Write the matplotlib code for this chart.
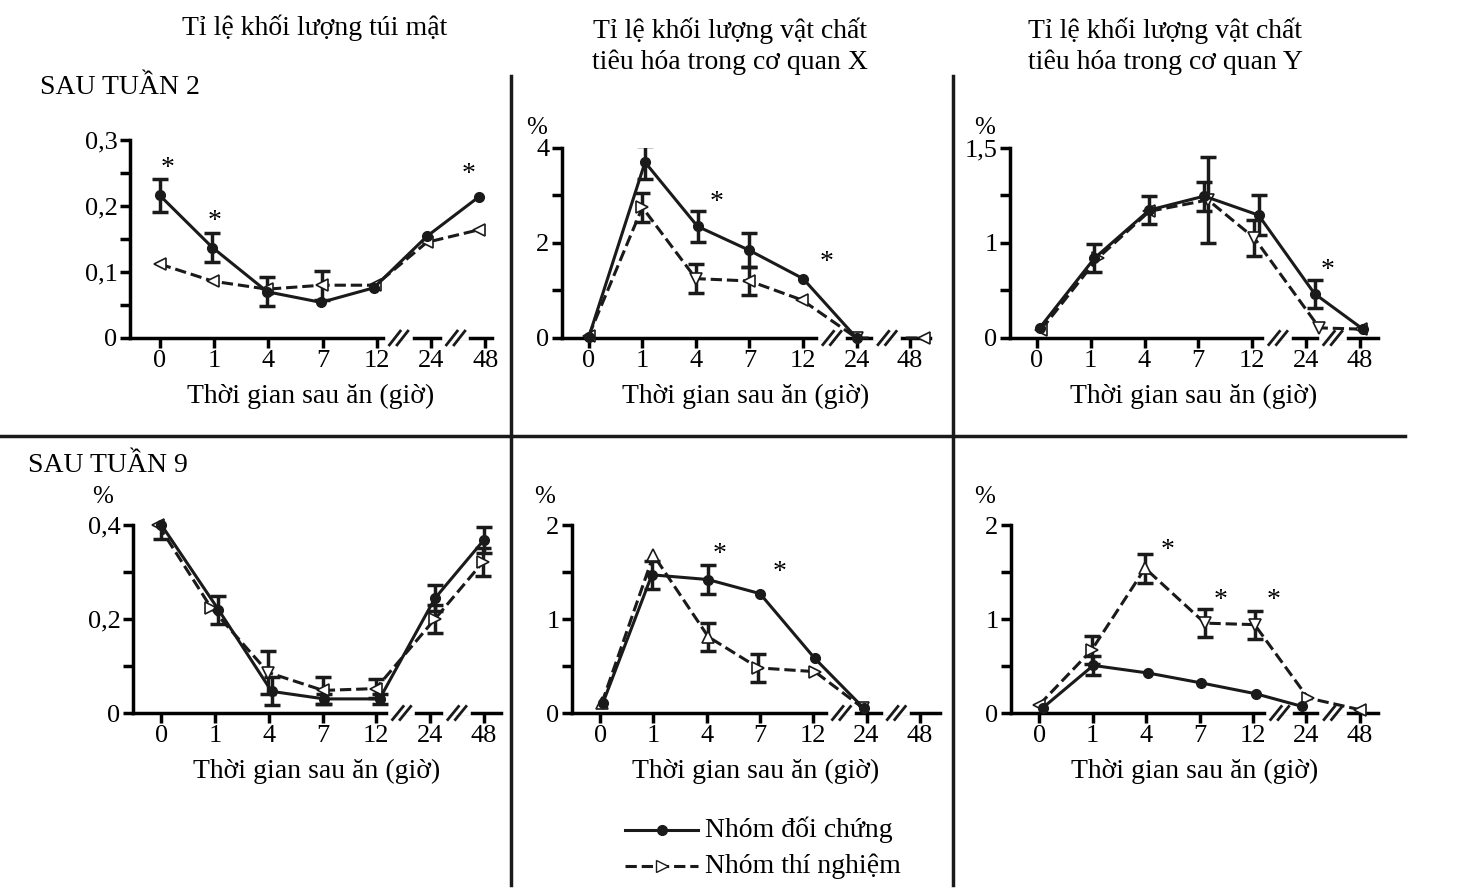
import numpy as np
import matplotlib.pyplot as plt
from matplotlib.lines import Line2D

plt.rcParams['font.family'] = ['Liberation Serif', 'DejaVu Serif']
plt.rcParams['font.size'] = 18

W, H = 1463, 889
fig = plt.figure(figsize=(W / 100, H / 100), dpi=100)

ticklabels = ['0', '1', '4', '7', '12', '24', '48']


def px_axes(l, r, t, b):
    return fig.add_axes([l / W, 1 - b / H, (r - l) / W, (b - t) / H])


# each panel: box in pixels, xlim, y ticks, data (x in category units)
panels = [
    dict(box=(130, 492, 140, 338), xlim=(-0.55, 6.12), ylim=0.3,
         yticks=[0, 0.05, 0.1, 0.15, 0.2, 0.25, 0.3],
         ylabels=['0', '', '0,1', '', '0,2', '', '0,3'],
         ctrl_x=[0, 0.97, 1.98, 2.97, 3.94, 4.92, 5.88],
         ctrl_y=[0.216, 0.137, 0.07, 0.054, 0.076, 0.154, 0.214],
         ctrl_e=[0.025, 0.022, 0.022, 0, 0, 0, 0],
         exp_x=[0, 0.98, 1.98, 2.98, 3.97, 4.92, 5.88],
         exp_y=[0.112, 0.086, 0.074, 0.08, 0.08, 0.145, 0.164],
         exp_e=[0, 0, 0, 0.022, 0, 0, 0],
         exp_m=['<', '<', '<', '<', '<', '<', '<'],
         stars=[(0.15, 0.257), (1.0, 0.177), (5.69, 0.247)],
         breaks=[4.4, 5.45], pct=None),
    dict(box=(562, 930, 148, 338), xlim=(-0.5, 6.37), ylim=4,
         yticks=[0, 1, 2, 3, 4], ylabels=['0', '', '2', '', '4'],
         ctrl_x=[0, 1.05, 2.03, 2.99, 4.0, 5.0],
         ctrl_y=[0.02, 3.7, 2.35, 1.85, 1.25, 0.0],
         ctrl_e=[0, 0.35, 0.32, 0.35, 0, 0],
         exp_x=[0.0, 1.0, 2.0, 3.0, 3.98, 5.0, 6.25],
         exp_y=[0.05, 2.75, 1.25, 1.2, 0.8, 0.0, 0.0],
         exp_e=[0, 0.3, 0.3, 0.3, 0, 0, 0],
         exp_m=['<', '>', 'v', '<', '<', 'v', '<'],
         stars=[(2.39, 2.86), (4.43, 1.58)],
         breaks=[4.54, 5.57], pct=(537, 128)),
    dict(box=(1010, 1378, 148, 338), xlim=(-0.5, 6.34), ylim=1.5,
         yticks=[0, 0.375, 0.75, 1.125, 1.5], ylabels=['0', '', '1', '', '1,5'],
         ctrl_x=[0.05, 1.07, 2.09, 3.11, 4.12, 5.16, 6.06],
         ctrl_y=[0.079, 0.63, 1.01, 1.12, 0.97, 0.35, 0.07],
         ctrl_e=[0, 0.11, 0.11, 0.115, 0.16, 0.11, 0],
         exp_x=[0.08, 1.13, 2.09, 3.18, 4.04, 5.25, 6.02],
         exp_y=[0.066, 0.63, 1.0, 1.09, 0.79, 0.08, 0.07],
         exp_e=[0, 0, 0, 0.34, 0.14, 0, 0],
         exp_m=['<', '>', '<', 'v', 'v', 'v', '<'],
         stars=[(5.4, 0.53)],
         breaks=[4.48, 5.5], pct=(985, 128)),
    dict(box=(133, 501, 525, 713), xlim=(-0.53, 6.32), ylim=0.4,
         yticks=[0, 0.1, 0.2, 0.3, 0.4], ylabels=['0', '', '0,2', '', '0,4'],
         ctrl_x=[0, 1.06, 2.05, 3.03, 4.06, 5.09, 6.0],
         ctrl_y=[0.40, 0.22, 0.046, 0.03, 0.03, 0.244, 0.368],
         ctrl_e=[0.03, 0.03, 0.03, 0.01, 0.01, 0.028, 0.028],
         exp_x=[-0.06, 0.93, 1.99, 3.01, 3.99, 5.09, 5.99],
         exp_y=[0.40, 0.223, 0.086, 0.048, 0.052, 0.2, 0.322],
         exp_e=[0, 0, 0.045, 0.028, 0.02, 0.03, 0.03],
         exp_m=['<', '>', 'v', '<', '<', '>', '>'],
         stars=[], breaks=[4.47, 5.5], pct=(103, 497)),
    dict(box=(572, 940, 525, 713), xlim=(-0.53, 6.38), ylim=2,
         yticks=[0, 0.5, 1, 1.5, 2], ylabels=['0', '', '1', '', '2'],
         ctrl_x=[0.05, 0.97, 2.02, 3.0, 4.03, 4.95],
         ctrl_y=[0.106, 1.47, 1.42, 1.27, 0.58, 0.05],
         ctrl_e=[0, 0.15, 0.15, 0, 0, 0],
         exp_x=[0.03, 1.0, 2.03, 2.97, 4.03, 4.94],
         exp_y=[0.106, 1.68, 0.81, 0.48, 0.44, 0.05],
         exp_e=[0, 0, 0.15, 0.15, 0, 0],
         exp_m=['^', '^', '^', '>', '>', 'v'],
         stars=[(2.25, 1.69), (3.375, 1.49)],
         breaks=[4.53, 5.56], pct=(545, 497)),
    dict(box=(1011, 1378, 525, 713), xlim=(-0.53, 6.34), ylim=2,
         yticks=[0, 0.5, 1, 1.5, 2], ylabels=['0', '', '1', '', '2'],
         ctrl_x=[0.06, 1.01, 2.04, 3.03, 4.05, 4.92],
         ctrl_y=[0.053, 0.506, 0.425, 0.32, 0.205, 0.07],
         ctrl_e=[0, 0.1, 0, 0, 0, 0],
         exp_x=[0, 0.98, 1.98, 3.1, 4.03, 5.03, 6.0],
         exp_y=[0.088, 0.67, 1.54, 0.956, 0.94, 0.16, 0.035],
         exp_e=[0, 0.15, 0.155, 0.15, 0.15, 0, 0],
         exp_m=['<', '>', '^', 'v', 'v', '>', '<'],
         stars=[(2.41, 1.73), (3.39, 1.2), (4.39, 1.2)],
         breaks=[4.5, 5.5], pct=(985, 497)),
]

for p in panels:
    ax = px_axes(*p['box'])
    ax.set_xlim(*p['xlim'])
    ax.set_ylim(0, p['ylim'])
    for s in ['top', 'right']:
        ax.spines[s].set_visible(False)
    for s in ['left', 'bottom']:
        ax.spines[s].set_linewidth(2.5)
    ax.set_xticks(range(7))
    ax.set_xticklabels(ticklabels)
    ax.set_yticks(p['yticks'])
    ax.set_yticklabels(p['ylabels'])
    ax.tick_params(width=2.5, length=7, labelsize=19, pad=2)

    # error bars
    for xs, ys, es in [(p['ctrl_x'], p['ctrl_y'], p['ctrl_e']),
                       (p['exp_x'], p['exp_y'], p['exp_e'])]:
        for x, y, e in zip(xs, ys, es):
            if e > 0:
                ax.errorbar(x, y, yerr=e, fmt='none', ecolor='#1a1a1a',
                            elinewidth=2.5, capsize=6, capthick=2.5, zorder=2)

    ax.plot(p['exp_x'], p['exp_y'], '--', color='#1a1a1a', lw=2.2, zorder=3,
            clip_on=False)
    for x, y, m in zip(p['exp_x'], p['exp_y'], p['exp_m']):
        ax.plot(x, y, marker=m, ms=9, mfc='white', mec='#1a1a1a', mew=1.2,
                zorder=4, clip_on=False)
    ax.plot(p['ctrl_x'], p['ctrl_y'], '-', color='#1a1a1a', lw=2.2, marker='o',
            ms=7, zorder=5, clip_on=False)

    for sx, sy in p['stars']:
        ax.text(sx, sy, '*', fontsize=20, ha='center', va='center')

    # axis break marks
    for bx in p['breaks']:
        dx = 0.1
        ax.plot([bx - 0.2, bx + 0.2], [0, 0], color='white', lw=4,
                transform=ax.get_xaxis_transform(), clip_on=False, zorder=6)
        for off in (-0.07, 0.07):
            ax.plot([bx + off - dx, bx + off + dx], [-0.035, 0.035],
                    color='#1a1a1a', lw=2,
                    transform=ax.get_xaxis_transform(), clip_on=False, zorder=7)

    ax.set_xlabel('Thời gian sau ăn (giờ)', fontsize=20, labelpad=8)
    if p['pct']:
        fig.text(p['pct'][0] / W, 1 - p['pct'][1] / H, '%', fontsize=18,
                 ha='center', va='center')

# titles and row labels
fig.text(315 / W, 1 - 28 / H, 'Tỉ lệ khối lượng túi mật', fontsize=20,
         ha='center', va='center')
fig.text(730 / W, 1 - 46 / H, 'Tỉ lệ khối lượng vật chất\ntiêu hóa trong cơ quan X',
         fontsize=20, ha='center', va='center', linespacing=1.3)
fig.text(1165 / W, 1 - 46 / H, 'Tỉ lệ khối lượng vật chất\ntiêu hóa trong cơ quan Y',
         fontsize=20, ha='center', va='center', linespacing=1.3)
fig.text(40 / W, 1 - 87 / H, 'SAU TUẦN 2', fontsize=20, ha='left', va='center')
fig.text(28 / W, 1 - 465 / H, 'SAU TUẦN 9', fontsize=20, ha='left', va='center')

# divider lines
fig.add_artist(Line2D([511 / W, 511 / W], [1 - 76 / H, 1 - 885 / H], color='#1a1a1a', lw=2.5))
fig.add_artist(Line2D([953 / W, 953 / W], [1 - 76 / H, 1 - 885 / H], color='#1a1a1a', lw=2.5))
fig.add_artist(Line2D([0, 1405 / W], [1 - 436 / H, 1 - 436 / H], color='#1a1a1a', lw=2.5))

# legend
fig.add_artist(Line2D([625 / W, 698 / W], [1 - 830 / H] * 2, color='#1a1a1a', lw=2.2))
fig.add_artist(Line2D([662 / W], [1 - 830 / H], marker='o', ms=7, color='#1a1a1a'))
fig.text(705 / W, 1 - 830 / H, 'Nhóm đối chứng', fontsize=20, ha='left', va='center')
fig.add_artist(Line2D([625 / W, 698 / W], [1 - 866 / H] * 2, color='#1a1a1a', lw=2.2, ls='--'))
fig.add_artist(Line2D([662 / W], [1 - 866 / H], marker='>', ms=9, mfc='white',
                      mec='#1a1a1a', color='#1a1a1a'))
fig.text(705 / W, 1 - 866 / H, 'Nhóm thí nghiệm', fontsize=20, ha='left', va='center')

fig.savefig('out.png', dpi=100, facecolor='white')
